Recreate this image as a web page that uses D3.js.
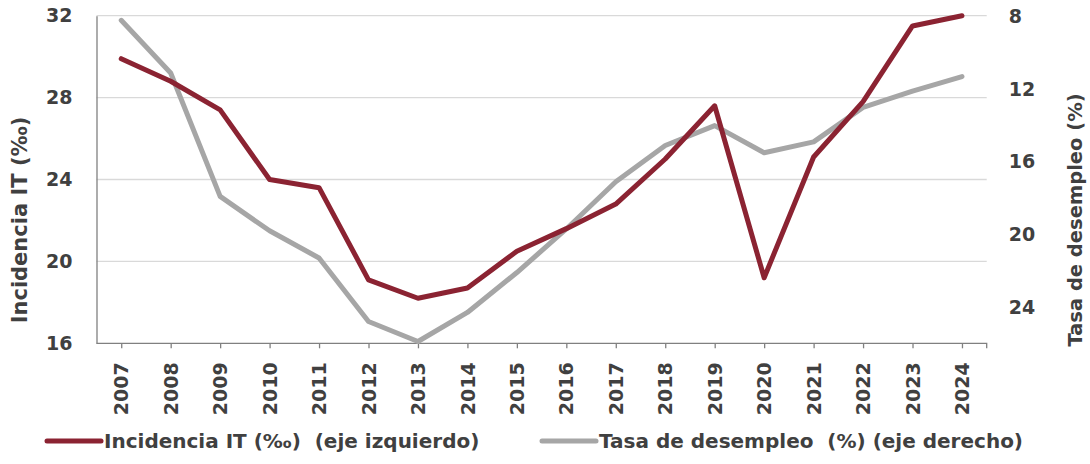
<!DOCTYPE html>
<html>
<head>
<meta charset="utf-8">
<script src="https://cdn.jsdelivr.net/npm/d3@7"></script>
<style>
  html, body { margin: 0; padding: 0; background: #fff; }
  svg { display: block; }
  text { font-family: "DejaVu Sans", sans-serif; font-weight: bold; fill: #404040; white-space: pre; }
</style>
</head>
<body>
<svg id="chart" width="1090" height="464"></svg>
<script>
// Years on the category axis
const years = ["2007","2008","2009","2010","2011","2012","2013","2014","2015",
               "2016","2017","2018","2019","2020","2021","2022","2023","2024"];
// Incidencia IT (‰), left axis
const incidencia = [29.9, 28.8, 27.4, 24.0, 23.6, 19.1, 18.2, 18.7, 20.5,
                    21.6, 22.8, 25.0, 27.6, 19.2, 25.1, 27.8, 31.5, 32.0];
// Tasa de desempleo (%), right axis (inverted)
const desempleo = [8.2, 11.1, 17.9, 19.8, 21.3, 24.8, 25.9, 24.3, 22.1,
                   19.7, 17.1, 15.1, 14.0, 15.5, 14.9, 13.0, 12.1, 11.3];
const leftTicks = [16, 20, 24, 28, 32];
const rightTicks = [8, 12, 16, 20, 24];
const seriesNames = ["Incidencia IT (‰)  (eje izquierdo)", "Tasa de desempleo  (%) (eje derecho)"];
const seriesColors = ["#8B2332", "#A6A6A6"];

const svg = d3.select("#chart");
const plot = { left: 96.5, right: 986.7, top: 15.7, bottom: 343.3 };

const x = d3.scalePoint().domain(years).range([plot.left, plot.right]).padding(0.5);
const yL = d3.scaleLinear().domain([16, 32]).range([plot.bottom, plot.top]);
const yR = d3.scaleLinear().domain([8, 26]).range([plot.top + 1, plot.bottom]);

// Horizontal gridlines
svg.append("g").selectAll("line").data(leftTicks.filter(d => d !== 16)).join("line")
  .attr("x1", plot.left).attr("x2", plot.right)
  .attr("y1", d => yL(d)).attr("y2", d => yL(d))
  .attr("stroke", "#D9D9D9").attr("stroke-width", 1.3);

// Left axis
const axL = svg.append("g").attr("transform", `translate(${plot.left},0)`)
  .call(d3.axisLeft(yL).tickValues(leftTicks).tickSize(0).tickPadding(24));
axL.select(".domain").attr("stroke", "#808080").attr("stroke-width", 1.3);
axL.selectAll("text").style("font-size", "19px").attr("fill", "#404040");

// Right axis (labels only)
const axR = svg.append("g").attr("transform", `translate(${plot.right},0)`)
  .call(d3.axisRight(yR).tickValues(rightTicks).tickSize(0).tickPadding(22));
axR.select(".domain").remove();
axR.selectAll("text").style("font-size", "19px").attr("fill", "#404040");

// Bottom axis
const axB = svg.append("g").attr("transform", `translate(0,${plot.bottom})`)
  .call(d3.axisBottom(x).tickSize(5).tickPadding(14).tickSizeOuter(5));
axB.select(".domain").attr("stroke", "#808080").attr("stroke-width", 1.3)
  .attr("d", `M${plot.left},0H${plot.right}V5`);
axB.selectAll(".tick line").attr("stroke", "#808080").attr("stroke-width", 1.3);
axB.selectAll("text")
  .style("font-size", "19px")
  .attr("transform", "rotate(-90)")
  .attr("text-anchor", "end")
  .attr("x", -19).attr("y", 0).attr("dy", "0.35em");

// Series lines
const lineL = d3.line().x((d, i) => x(years[i])).y(d => yL(d));
const lineR = d3.line().x((d, i) => x(years[i])).y(d => yR(d));
svg.append("path").datum(desempleo).attr("d", lineR)
  .attr("fill", "none").attr("stroke", seriesColors[1]).attr("stroke-width", 5)
  .attr("stroke-linejoin", "round").attr("stroke-linecap", "round");
svg.append("path").datum(incidencia).attr("d", lineL)
  .attr("fill", "none").attr("stroke", seriesColors[0]).attr("stroke-width", 5)
  .attr("stroke-linejoin", "round").attr("stroke-linecap", "round");

// Axis titles
svg.append("text").attr("transform", "translate(20,220) rotate(-90)")
  .attr("text-anchor", "middle").attr("dy", "0.35em").style("font-size", "21px")
  .text("Incidencia IT (‰)");
svg.append("text").attr("transform", "translate(1075,220) rotate(-90)")
  .attr("text-anchor", "middle").attr("dy", "0.35em").style("font-size", "19.5px")
  .text("Tasa de desempleo (%)");

// Legend
const legendX = [47, 542];
const legend = svg.append("g");
seriesNames.forEach((name, i) => {
  legend.append("line")
    .attr("x1", legendX[i]).attr("x2", legendX[i] + 54)
    .attr("y1", 441).attr("y2", 441)
    .attr("stroke", seriesColors[i]).attr("stroke-width", 5)
    .attr("stroke-linecap", "round");
  legend.append("text")
    .attr("x", legendX[i] + 57).attr("y", 441).attr("dy", "0.35em")
    .style("font-size", "20px")
    .text(name);
});
</script>
</body>
</html>
